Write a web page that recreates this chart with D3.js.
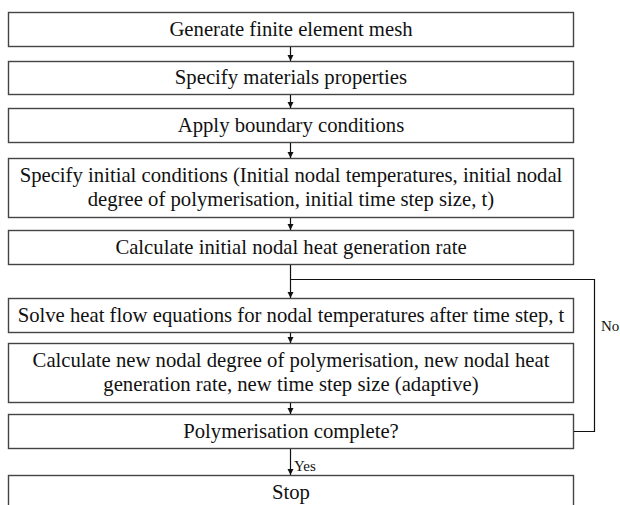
<!DOCTYPE html>
<html><head><meta charset="utf-8">
<script src="https://cdn.jsdelivr.net/npm/d3@7"></script>
<style>body{margin:0;background:#fff}svg{display:block}</style>
</head><body>
<script>
// Flowchart steps (text lines per box)
const steps = [
  ["Generate finite element mesh"],
  ["Specify materials properties"],
  ["Apply boundary conditions"],
  ["Specify initial conditions (Initial nodal temperatures, initial nodal", "degree of polymerisation, initial time step size, t)"],
  ["Calculate initial nodal heat generation rate"],
  ["Solve heat flow equations for nodal temperatures after time step, t"],
  ["Calculate new nodal degree of polymerisation, new nodal heat", "generation rate, new time step size (adaptive)"],
  ["Polymerisation complete?"],
  ["Stop"]
];
const edgeLabels = ["Yes", "No"];

// Layout (pixels)
const W = 620, H = 505;
const boxLeft = 8, boxRight = 573, cx = 290, loopX = 594;
const boxTops =    [12, 61, 108, 158, 230, 298, 343, 414, 475];
const boxBottoms = [46, 94, 142, 217, 264, 332, 402, 448, 509];
const loopY = 279;
const FONT = '"Liberation Serif"';
const targetWidth = 543; // width of the widest line in the reference

const svg = d3.select("body").append("svg").attr("width", W).attr("height", H);

// fit the font size to the reference's widest line
const probe = svg.append("text").style("font-family", FONT).style("font-size","20px")
  .text(steps[3][0]);
const fontSize = 20 * targetWidth / probe.node().getComputedTextLength();
probe.remove();
const lineH = fontSize * 1.17;

const defs = svg.append("defs");
defs.append("marker").attr("id","ah").attr("viewBox","0 0 10 10")
  .attr("refX",10).attr("refY",5).attr("markerWidth",6).attr("markerHeight",7)
  .attr("markerUnits","userSpaceOnUse").attr("orient","auto")
  .append("path").attr("d","M0,0L10,5L0,10Z").attr("fill","#111");

const g = svg.append("g");
const nodes = g.selectAll("g.node").data(steps).join("g").attr("class","node");
nodes.append("rect")
  .attr("x", boxLeft + 0.5).attr("y", (d,i)=>boxTops[i] + 0.5)
  .attr("width", boxRight - boxLeft).attr("height", (d,i)=>boxBottoms[i]-boxTops[i])
  .attr("fill","#fff").attr("stroke","#444").attr("stroke-width",1.4);
nodes.each(function(d,i){
  const mid = (boxTops[i] + boxBottoms[i])/2;
  const first = mid - (d.length-1)*lineH/2 + fontSize*0.33;
  d3.select(this).selectAll("text").data(d).join("text")
    .attr("x", cx + 1).attr("y", (t,j)=>first + j*lineH)
    .attr("text-anchor","middle")
    .style("font-family", FONT).style("font-size", fontSize+"px")
    .attr("fill","#111").text(t=>t);
});

// straight arrows between consecutive boxes
const links = d3.range(steps.length-1);
g.selectAll("line.arrow").data(links).join("line").attr("class","arrow")
  .attr("x1", cx + 0.5).attr("x2", cx + 0.5)
  .attr("y1", i=>boxBottoms[i] + 1).attr("y2", i=>boxTops[i+1])
  .attr("stroke","#111").attr("stroke-width",1.2).attr("marker-end","url(#ah)");

// loop back path: from decision box right side to the loop junction
const line = d3.line();
g.append("path")
  .attr("d", line([[boxRight+1, 431.5],[loopX+0.5, 431.5],[loopX+0.5, loopY+0.5],[cx+0.5, loopY+0.5]]))
  .attr("fill","none").attr("stroke","#111").attr("stroke-width",1.2);

// Edge labels
g.append("text").attr("x", cx + 4).attr("y", 471)
  .style("font-family", FONT).style("font-size","15px")
  .attr("fill","#111").text(edgeLabels[0]);
g.append("text").attr("x", 601).attr("y", 331)
  .style("font-family", FONT).style("font-size","15px")
  .attr("fill","#111").text(edgeLabels[1]);
</script>
</body></html>
